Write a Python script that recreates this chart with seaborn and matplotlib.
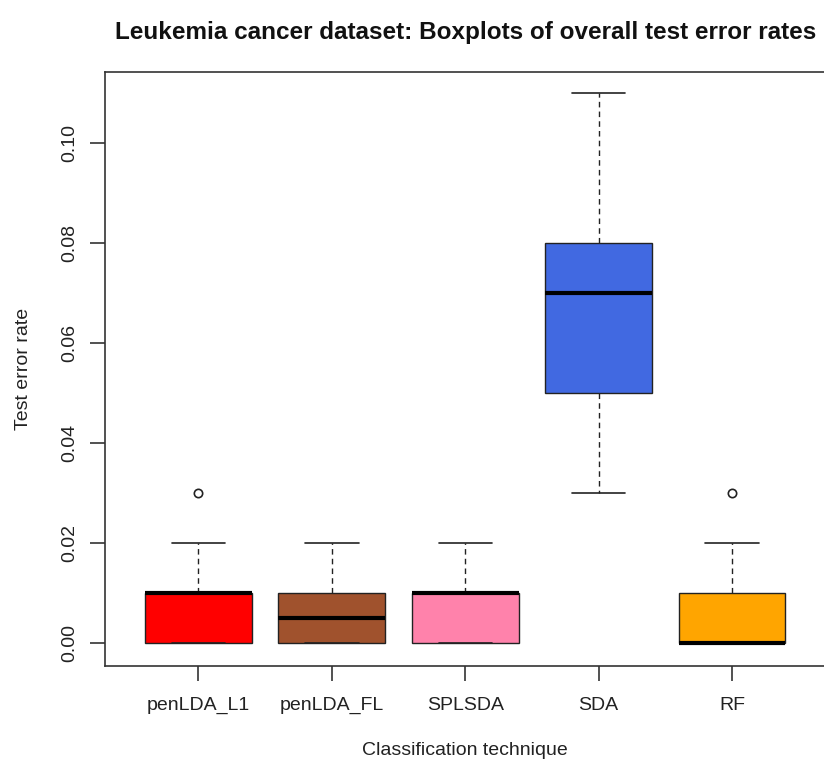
import matplotlib
matplotlib.use("Agg")
import matplotlib.pyplot as plt
import seaborn as sns
import pandas as pd

methods = ["penLDA_L1", "penLDA_FL", "SPLSDA", "SDA", "RF"]
colors = ["#FF0000", "#A0522D", "#FF82AB", "#4169E1", "#FFA500"]

err_penLDA_L1 = [0.00, 0.00, 0.00, 0.00, 0.01, 0.01, 0.01, 0.01, 0.01, 0.01, 0.01, 0.02, 0.03]
err_penLDA_FL = [0.00, 0.00, 0.00, 0.00, 0.00, 0.01, 0.01, 0.01, 0.01, 0.02]
err_SPLSDA = [0.00, 0.00, 0.00, 0.00, 0.01, 0.01, 0.01, 0.01, 0.01, 0.02]
err_SDA = [0.03, 0.04, 0.05, 0.05, 0.06, 0.07, 0.07, 0.08, 0.08, 0.09, 0.11]
err_RF = [0.00, 0.00, 0.00, 0.00, 0.00, 0.00, 0.01, 0.01, 0.01, 0.02, 0.03]

series = [err_penLDA_L1, err_penLDA_FL, err_SPLSDA, err_SDA, err_RF]
df = pd.DataFrame({
    "method": [m for m, s in zip(methods, series) for _ in s],
    "err": [v for s in series for v in s],
})

sns.set_style("white")
plt.rcParams["font.family"] = ["Liberation Sans", "DejaVu Sans"]

fig = plt.figure(figsize=(8.24, 7.62), dpi=100)
ax = fig.add_axes([105 / 824, 96 / 762, 720.5 / 824, 594 / 762])

sns.boxplot(
    data=df, x="method", y="err", hue="method", order=methods, hue_order=methods,
    palette=colors, legend=False, width=0.8, ax=ax, saturation=1,
    linecolor="#222222", linewidth=1.0,
    whis=1.5,
    whiskerprops={"linestyle": (0, (4, 3)), "color": "#222222", "linewidth": 1.0},
    capprops={"color": "#222222", "linewidth": 1.2},
    medianprops={"color": "black", "linewidth": 3.0},
    flierprops={"marker": "o", "markersize": 6, "markerfacecolor": "none",
                "markeredgecolor": "#222222", "markeredgewidth": 1.2},
)

ax.set_xlim(-0.7, 4.7)
ax.set_ylim(-0.0046, 0.1142)
ax.set_yticks([0.00, 0.02, 0.04, 0.06, 0.08, 0.10])
ax.set_yticklabels(["0.00", "0.02", "0.04", "0.06", "0.08", "0.10"], rotation=90, va="center")
ax.set_xticks(range(5))
ax.set_xticklabels(methods)

for sp in ax.spines.values():
    sp.set_visible(True)
    sp.set_color("#333333")
    sp.set_linewidth(1.2)

ax.tick_params(axis="both", which="both", direction="out", length=11, width=1.2,
               color="#333333", labelsize=14, labelcolor="#222222", pad=8,
               left=True, bottom=True)
ax.tick_params(axis="x", pad=11)

ax.set_xlabel("Classification technique", fontsize=14, color="#222222", labelpad=20)
ax.set_ylabel("Test error rate", fontsize=14, color="#222222", labelpad=21)
ax.set_title("Leukemia cancer dataset: Boxplots of overall test error rates",
             fontsize=17.5, fontweight="bold", color="#111111", pad=24)

fig.savefig("out.png", dpi=100)
